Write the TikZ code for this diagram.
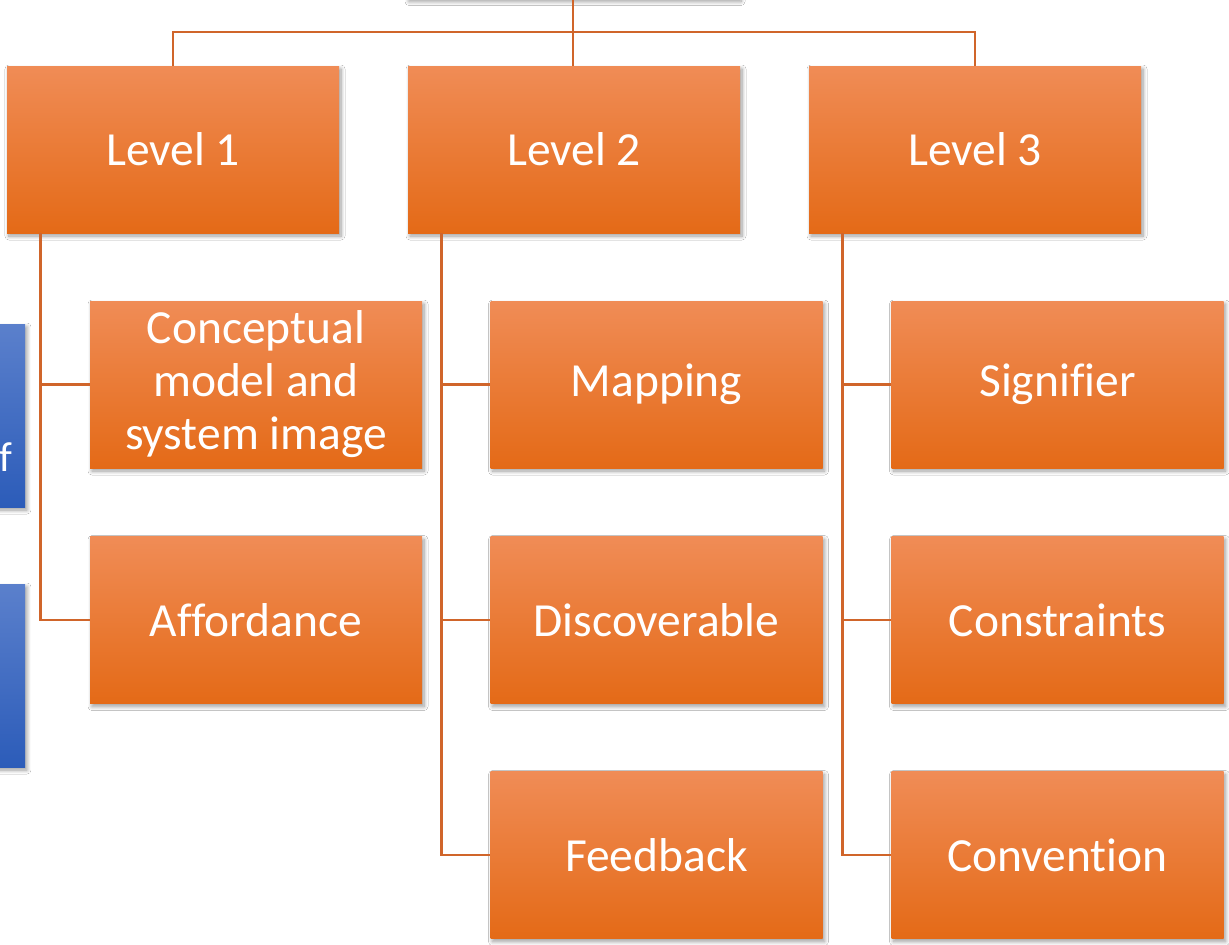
\documentclass[tikz,border=0pt]{standalone}
\usepackage{fontspec}
\setmainfont[Ligatures={NoCommon}]{Carlito}
\usetikzlibrary{shadows.blur,calc}
\definecolor{otop}{HTML}{F08C56}
\definecolor{omid}{HTML}{F47F30}
\definecolor{obot}{HTML}{E46A17}
\definecolor{btop}{HTML}{5B80CC}
\definecolor{bbot}{HTML}{2C5CB9}
\definecolor{lnc}{HTML}{D0652A}
\tikzset{
  obox/.style={rectangle, top color=otop, middle color=omid, bottom color=obot,
    minimum width=332pt, minimum height=167pt, inner sep=0pt, text=white,
    align=center, font=\fontsize{47.5}{53}\selectfont,
    blur shadow={shadow xshift=2pt, shadow yshift=-3pt, shadow blur steps=8, shadow blur radius=4pt, shadow opacity=40}},
  bbox/.style={rectangle, top color=btop, bottom color=bbot,
    minimum width=332pt, minimum height=183pt, inner sep=0pt,
    blur shadow={shadow xshift=2pt, shadow yshift=-3pt, shadow blur steps=8, shadow blur radius=4pt, shadow opacity=40}},
  conn/.style={draw=lnc, line width=2.8pt}
}
\begin{document}
\begin{tikzpicture}[x=1pt,y=-1pt]
\useasboundingbox (0,0) rectangle (1229,945);
\clip (0,0) rectangle (1229,945);
\fill[white] (0,0) rectangle (1229,945);
% top (cut off) box
\node[obox] (top) at (573,-85) {};
\node[obox] (lv1) at (173,149.5) {Level 1};
\node[obox] (lv2) at (574,149.5) {Level 2};
\node[obox] (lv3) at (975,149.5) {Level 3};
\node[obox] (c11) at (256,384.5) {Conceptual\\model and\\system image};
\node[obox] (c12) at (256,620) {Affordance};
\node[obox] (c21) at (656.5,384.5) {Mapping};
\node[obox] (c22) at (656.5,620) {Discoverable};
\node[obox] (c23) at (656.5,855) {Feedback};
\node[obox] (c31) at (1057.5,384.5) {Signifier};
\node[obox] (c32) at (1057.5,620) {Constraints};
\node[obox] (c33) at (1057.5,855) {Convention};
% blue boxes at left (cut off)
\node[bbox] (b1) at (-141,415.5) {};
\node[bbox] (b2) at (-141,675.5) {};
\node[text=white, font=\fontsize{42}{50}\selectfont, anchor=base east, inner sep=0pt] (bt) at (13,471) {f};
% connectors
\coordinate (bar) at (573,32);
\draw[conn] (top.south) -- (top.south |- lv2.north);
\draw[conn] (lv1.north) |- (bar) -| (lv3.north);
\draw[conn] ([xshift=34pt]lv1.south west) |- (c11.west);
\draw[conn] ([xshift=34pt]lv1.south west) |- (c12.west);
\draw[conn] ([xshift=34pt]lv2.south west) |- (c21.west);
\draw[conn] ([xshift=34pt]lv2.south west) |- (c22.west);
\draw[conn] ([xshift=34pt]lv2.south west) |- (c23.west);
\draw[conn] ([xshift=34pt]lv3.south west) |- (c31.west);
\draw[conn] ([xshift=34pt]lv3.south west) |- (c32.west);
\draw[conn] ([xshift=34pt]lv3.south west) |- (c33.west);
\end{tikzpicture}
\end{document}
